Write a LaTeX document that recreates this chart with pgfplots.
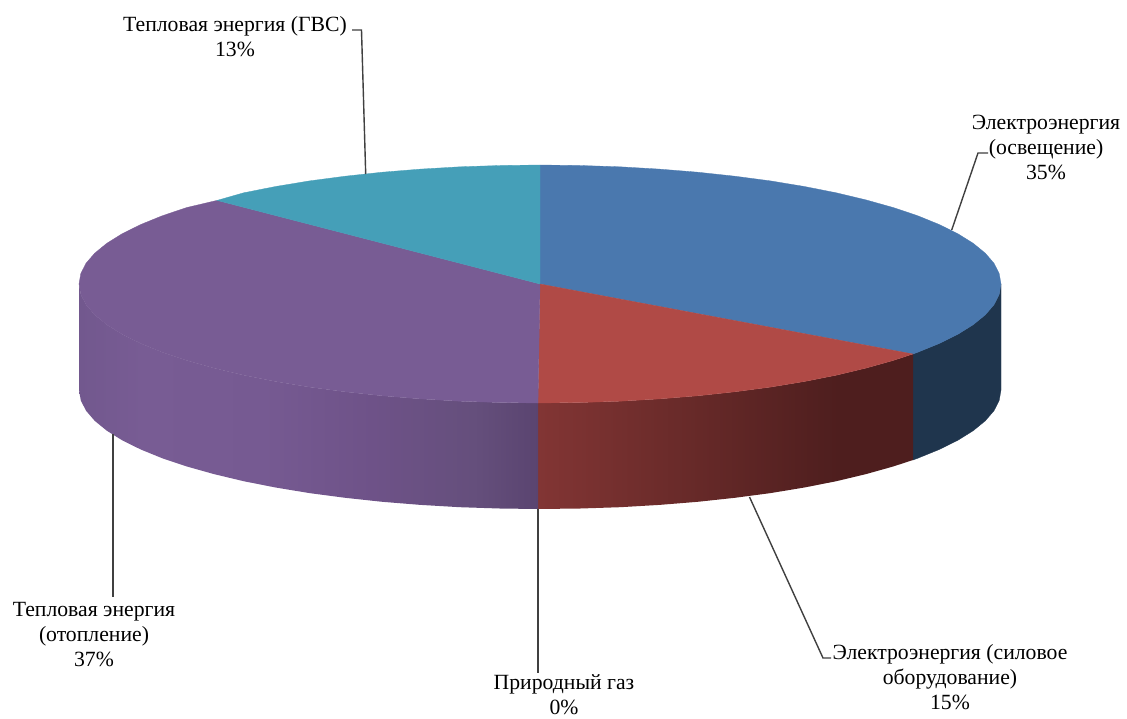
\documentclass[border=0pt]{standalone}
\usepackage{pgfplots}
\pgfplotsset{compat=1.18}
\usepackage{fontspec}
\setmainfont{Liberation Serif}

\definecolor{blueTop}{HTML}{4A78AE}
\definecolor{redTop}{HTML}{B04A46}
\definecolor{purpleTop}{HTML}{785C94}
\definecolor{tealTop}{HTML}{459FB8}
\definecolor{blueSide}{HTML}{1F354D}
\definecolor{leader}{HTML}{404040}

% side walls, left to right (the path box runs from 25bp to 75bp)
\pgfdeclarehorizontalshading{redside}{100bp}{
  color(0bp)=(rgb,255:red,130;green,53;blue,52);
  color(25bp)=(rgb,255:red,130;green,53;blue,52);
  color(45bp)=(rgb,255:red,104;green,42;blue,41);
  color(65bp)=(rgb,255:red,78;green,30;blue,30);
  color(100bp)=(rgb,255:red,78;green,30;blue,30)}
\pgfdeclarehorizontalshading{purpleside}{100bp}{
  color(0bp)=(rgb,255:red,114;green,88;blue,142);
  color(25bp)=(rgb,255:red,114;green,88;blue,142);
  color(32bp)=(rgb,255:red,120;green,92;blue,148);
  color(45bp)=(rgb,255:red,118;green,90;blue,146);
  color(57bp)=(rgb,255:red,110;green,82;blue,136);
  color(68bp)=(rgb,255:red,101;green,79;blue,124);
  color(75bp)=(rgb,255:red,90;green,68;blue,112);
  color(100bp)=(rgb,255:red,90;green,68;blue,112)}

\tikzset{lab/.style={font=\fontsize{21.7}{25}\selectfont, align=center, text=black, inner sep=0pt}}

\begin{document}
\begin{tikzpicture}
\begin{axis}[
    x=1pt, y=1pt,
    xmin=0, xmax=1127,
    ymin=0, ymax=718,
    y dir=reverse,
    hide axis,
    clip=false,
    scale only axis,
]
% page area, so that the picture keeps the reference's size
\addplot[draw=none, fill=white] coordinates {(0,0) (1127,0) (1127,718) (0,718)} -- cycle;
% side walls (shares 35 / 15 / 37 %, the back of the disc is hidden)
\addplot[draw=blueSide, line width=0.3pt, fill=blueSide] coordinates {
    (913,354) (917.6,352.3) (939.2,343.5) (957.8,334.3) (973.2,324.7) (985.3,314.8)
    (994,304.7) (999.2,294.4) (1001,284) (1001,390) (999.2,400.4) (994,410.7)
    (985.3,420.8) (973.2,430.7) (957.8,440.3) (939.2,449.5) (917.6,458.3) (913,460)
} -- cycle;
\addplot[draw=none, shading=redside, shading angle=0] coordinates {
    (538,403) (580.2,402.5) (620,401.2) (659.3,398.9) (697.7,395.8) (734.8,391.8)
    (770.5,387.1) (804.4,381.5) (836.3,375.2) (866,368.1) (893.1,360.5) (913,354)
    (913,460) (893.1,466.5) (866,474.1) (836.3,481.2) (804.4,487.5) (770.5,493.1)
    (734.8,497.8) (697.7,501.8) (659.3,504.9) (620,507.2) (580.2,508.5) (538,509)
} -- cycle;
\addplot[draw=none, shading=purpleside, shading angle=0] coordinates {
    (538,403) (499.8,402.5) (460,401.2) (420.7,398.9) (382.3,395.8) (345.2,391.8)
    (309.5,387.1) (275.6,381.5) (243.7,375.2) (214,368.1) (186.9,360.5) (162.4,352.3)
    (140.8,343.5) (122.2,334.3) (106.8,324.7) (94.7,314.8) (86,304.7) (80.8,294.4)
    (79,284) (79,390) (80.8,400.4) (86,410.7) (94.7,420.8) (106.8,430.7) (122.2,440.3)
    (140.8,449.5) (162.4,458.3) (186.9,466.5) (214,474.1) (243.7,481.2) (275.6,487.5)
    (309.5,493.1) (345.2,497.8) (382.3,501.8) (420.7,504.9) (460,507.2) (499.8,508.5)
    (538,509)
} -- cycle;
% top face
\addplot[draw=blueTop, line width=0.3pt, fill=blueTop] coordinates {
    (540,284) (540,165) (580.2,165.5) (620,166.8) (659.3,169.1) (697.7,172.2)
    (734.8,176.2) (770.5,180.9) (804.4,186.5) (836.3,192.8) (866,199.9) (893.1,207.5)
    (917.6,215.7) (939.2,224.5) (957.8,233.7) (973.2,243.3) (985.3,253.2) (994,263.3)
    (999.2,273.6) (1001,284) (999.2,294.4) (994,304.7) (985.3,314.8) (973.2,324.7)
    (957.8,334.3) (939.2,343.5) (917.6,352.3) (913,354)
} -- cycle;
\addplot[draw=redTop, line width=0.3pt, fill=redTop] coordinates {
    (540,284) (913,354) (893.1,360.5) (866,368.1) (836.3,375.2) (804.4,381.5)
    (770.5,387.1) (734.8,391.8) (697.7,395.8) (659.3,398.9) (620,401.2) (580.2,402.5)
    (538,403)
} -- cycle;
\addplot[draw=purpleTop, line width=0.3pt, fill=purpleTop] coordinates {
    (540,284) (538,403) (499.8,402.5) (460,401.2) (420.7,398.9) (382.3,395.8)
    (345.2,391.8) (309.5,387.1) (275.6,381.5) (243.7,375.2) (214,368.1) (186.9,360.5)
    (162.4,352.3) (140.8,343.5) (122.2,334.3) (106.8,324.7) (94.7,314.8) (86,304.7)
    (80.8,294.4) (79,284) (80.8,273.6) (86,263.3) (94.7,253.2) (106.8,243.3)
    (122.2,233.7) (140.8,224.5) (162.4,215.7) (186.9,207.5) (217,200.4)
} -- cycle;
\addplot[draw=tealTop, line width=0.3pt, fill=tealTop] coordinates {
    (540,284) (217,200.4) (243.7,192.8) (275.6,186.5) (309.5,180.9) (345.2,176.2)
    (382.3,172.2) (420.7,169.1) (460,166.8) (499.8,165.5) (540,165)
} -- cycle;
% leader lines
\addplot[leader, line width=1.4pt] coordinates {(352,30) (361.5,30) (365.7,174)};
\addplot[leader, line width=1.4pt] coordinates {(951.7,230) (978,153) (988,153)};
\addplot[leader, line width=1.4pt] coordinates {(749.5,497) (823,658) (831,658)};
\addplot[leader, line width=1.4pt] coordinates {(538,509) (538,673)};
\addplot[leader, line width=1.4pt] coordinates {(113,434) (113,597)};
% labels
\node[lab] at (axis cs:235,37) {Тепловая энергия (ГВС)\\13\%};
\node[lab] at (axis cs:1046,147) {Электроэнергия\\(освещение)\\35\%};
\node[lab] at (axis cs:950,677) {Электроэнергия (силовое\\оборудование)\\15\%};
\node[lab] at (axis cs:564,695) {Природный газ\\0\%};
\node[lab] at (axis cs:94,635) {Тепловая энергия\\(отопление)\\37\%};
\end{axis}
\end{tikzpicture}
\end{document}
